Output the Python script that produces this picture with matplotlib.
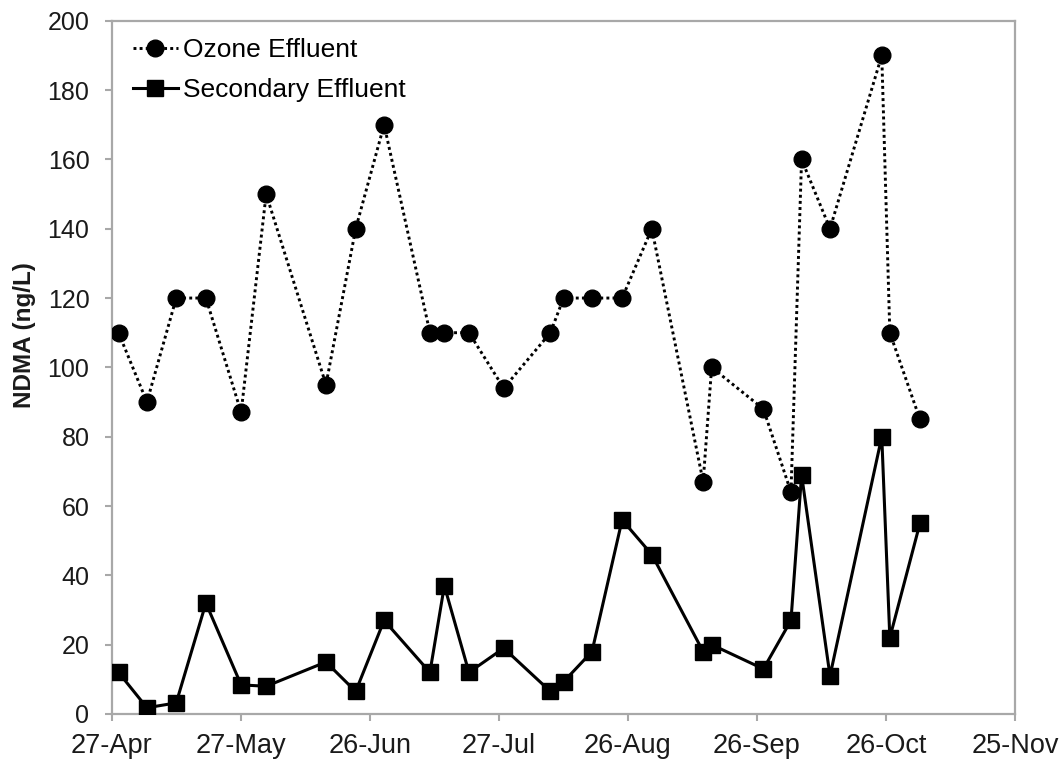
import numpy as np
import matplotlib
matplotlib.use("Agg")
import matplotlib.pyplot as plt

plt.rcParams['font.family'] = ['Liberation Sans', 'DejaVu Sans']

# Sampling days, counted in days after 27 April
sample_day = [1.6, 8.3, 15.2, 22.2, 30.5, 36.4, 50.5, 57.5, 64.2, 75.0, 78.4,
              84.2, 92.4, 103.4, 106.5, 113.2, 120.3, 127.3, 139.4, 141.4,
              153.6, 160.1, 162.6, 169.3, 181.5, 183.4, 190.5]

# NDMA concentrations (ng/L)
ozone_effluent = [110, 90, 120, 120, 87, 150, 95, 140, 170, 110, 110, 110, 94,
                  110, 120, 120, 120, 140, 67, 100, 88, 64, 160, 140, 190, 110, 85]
secondary_effluent = [12, 1.8, 3.2, 32, 8.4, 8, 15, 6.5, 27, 12, 37, 12, 19,
                      6.5, 9.3, 18, 56, 46, 18, 20, 13, 27, 69, 11, 80, 22, 55]

x_tick_labels = ['27-Apr', '27-May', '26-Jun', '27-Jul', '26-Aug', '26-Sep',
                 '26-Oct', '25-Nov']
y_ticks = [0, 20, 40, 60, 80, 100, 120, 140, 160, 180, 200]

month_step = 365 / 12
x_ticks = np.arange(len(x_tick_labels)) * month_step

fig = plt.figure(figsize=(10.64, 7.66), dpi=100)
ax = fig.add_axes([0.105, 0.0679, 0.849, 0.905])

ax.plot(sample_day, ozone_effluent, color='black', linestyle=(0, (1, 1.1)),
        linewidth=2.1, marker='o', markersize=12, label='Ozone Effluent',
        zorder=3)
ax.plot(sample_day, secondary_effluent, color='black', linestyle='-',
        linewidth=2.2, marker='s', markersize=11.5, label='Secondary Effluent',
        zorder=4)

ax.set_xlim(x_ticks[0], x_ticks[-1])
ax.set_ylim(0, 200)
ax.set_xticks(x_ticks)
ax.set_xticklabels(x_tick_labels)
ax.set_yticks(y_ticks)

grey = '#a8a8a8'
for side in ['left', 'right', 'top', 'bottom']:
    ax.spines[side].set_color(grey)
    ax.spines[side].set_linewidth(1.6)

ax.tick_params(axis='x', direction='out', length=5, width=1.5, color=grey,
               labelsize=19.5, labelcolor='#1a1a1a', pad=9)
ax.tick_params(axis='y', direction='out', length=5, width=1.5, color=grey,
               labelsize=18, labelcolor='#1a1a1a', pad=11)

ax.set_ylabel('NDMA (ng/L)', fontsize=17.5, fontweight='bold', color='#1a1a1a')
ax.yaxis.set_label_coords(-0.084, 0.546)

ax.legend(loc='upper left', bbox_to_anchor=(0.0236, 0.975), frameon=False,
          fontsize=19, handlelength=1.7, handletextpad=0.2, labelspacing=0.6,
          borderpad=0, borderaxespad=0)

fig.savefig('out.png', dpi=100)
